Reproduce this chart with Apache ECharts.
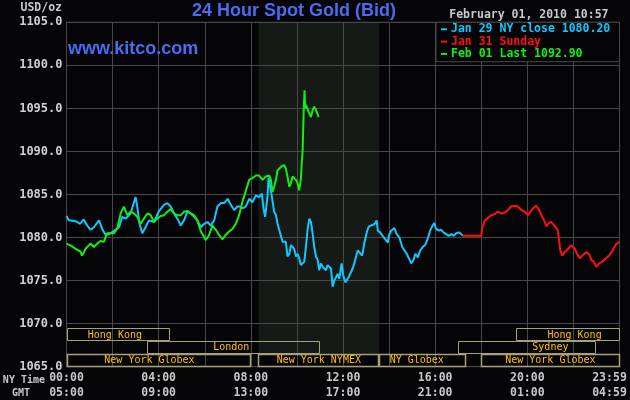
<!DOCTYPE html>
<html>
<head>
<meta charset="utf-8">
<script src="https://cdn.jsdelivr.net/npm/echarts@6/dist/echarts.min.js"></script>
<style>
html,body{margin:0;padding:0;background:#050508;}
#chart{width:630px;height:400px;}
</style>
</head>
<body>
<div id="chart"></div>
<script>
// ---- Data (hours of NY time, USD/oz) ----
const nyTimeLabels = ['00:00','04:00','08:00','12:00','16:00','20:00','23:59'];
const gmtLabels    = ['05:00','09:00','13:00','17:00','21:00','01:00','04:59'];

const jan29Times = [0,0.1,0.17,0.39,0.6,0.74,0.9,1.04,1.19,1.41,1.55,1.7,1.91,2.13,2.28,2.42,2.57,2.78,2.93,3.0,3.07,3.17,3.29,3.43,3.58,3.8,4.0,4.23,4.38,4.52,4.67,4.81,4.96,5.1,5.25,5.39,5.54,5.68,5.83,5.97,6.12,6.26,6.41,6.55,6.7,6.84,7.0,7.13,7.28,7.42,7.53,7.64,7.78,7.93,8.07,8.22,8.36,8.48,8.54,8.62,8.72,8.77,8.87,8.94,9.01,9.09,9.16,9.23,9.3,9.38,9.45,9.52,9.59,9.67,9.74,9.81,9.88,9.96,10.03,10.1,10.17,10.25,10.32,10.39,10.46,10.54,10.61,10.68,10.75,10.83,10.9,10.97,11.04,11.12,11.19,11.26,11.33,11.41,11.48,11.55,11.62,11.7,11.77,11.84,11.94,12.01,12.1,12.2,12.28,12.35,12.42,12.49,12.57,12.64,12.71,12.83,12.93,13.03,13.12,13.22,13.32,13.41,13.46,13.51,13.61,13.72,13.84,13.94,13.99,14.09,14.23,14.33,14.45,14.57,14.67,14.77,14.86,14.96,15.06,15.14,15.25,15.35,15.46,15.58,15.68,15.78,15.87,15.96,16.04,16.16,16.26,16.36,16.48,16.59,16.7,16.8,16.91,17.03,17.13,17.2];
const jan29Values = [1082.5,1082.0,1081.8,1081.9,1081.6,1082.1,1081.4,1080.9,1081.2,1082.0,1081.0,1080.3,1080.5,1080.9,1081.2,1082.4,1082.2,1082.8,1084.1,1084.7,1083.6,1081.6,1080.5,1081.2,1082.0,1081.8,1083.0,1083.8,1084.0,1083.6,1082.8,1082.2,1081.4,1082.0,1083.0,1082.8,1082.4,1082.0,1081.2,1081.6,1081.8,1081.4,1082.0,1083.6,1084.0,1084.0,1084.5,1083.8,1083.2,1083.6,1083.6,1083.4,1083.6,1084.5,1084.1,1084.9,1084.7,1085.1,1083.6,1082.4,1084.7,1086.9,1085.5,1085.5,1083.0,1082.6,1081.6,1080.9,1080.7,1079.5,1079.3,1079.5,1077.8,1078.1,1079.1,1079.3,1078.7,1077.8,1078.1,1077.6,1076.8,1077.0,1077.2,1078.9,1080.9,1082.2,1081.8,1080.5,1078.9,1077.8,1077.4,1076.2,1077.0,1076.6,1076.8,1076.2,1076.8,1076.8,1076.4,1074.3,1075.0,1075.4,1075.8,1075.2,1077.0,1075.6,1074.8,1075.2,1075.6,1076.0,1076.4,1077.0,1077.8,1078.5,1078.5,1077.9,1079.4,1080.6,1081.3,1081.4,1081.5,1081.7,1082.0,1080.8,1080.6,1080.2,1079.8,1079.4,1080.2,1080.8,1081.1,1080.4,1080.0,1078.9,1078.5,1078.1,1077.6,1077.0,1077.4,1078.1,1077.7,1078.5,1078.9,1079.2,1079.9,1080.8,1081.3,1081.7,1081.0,1080.8,1080.9,1080.6,1080.4,1080.2,1080.4,1080.2,1080.5,1080.6,1080.4,1080.2];

const jan31Times = [17.2,18.0,18.04,18.14,18.29,18.43,18.58,18.72,18.87,19.01,19.16,19.3,19.45,19.59,19.74,19.88,20.03,20.13,20.25,20.39,20.51,20.61,20.71,20.83,20.94,21.04,21.14,21.26,21.33,21.38,21.43,21.52,21.62,21.77,21.91,22.06,22.16,22.28,22.39,22.54,22.68,22.78,22.88,23.0,23.12,23.26,23.41,23.55,23.7,23.84,23.99];
const jan31Values = [1080.2,1080.2,1081.1,1081.9,1082.3,1082.6,1082.7,1083.0,1082.8,1082.9,1083.2,1083.6,1083.7,1083.6,1083.2,1083.0,1082.6,1083.0,1083.4,1083.7,1083.2,1082.6,1082.1,1081.3,1081.7,1081.8,1081.5,1081.1,1080.8,1079.6,1078.5,1077.9,1078.3,1078.7,1079.1,1078.7,1078.1,1077.6,1077.9,1078.3,1078.1,1077.4,1077.2,1076.6,1077.0,1077.2,1077.6,1077.9,1078.5,1079.2,1079.5];

const feb01Times = [0,0.17,0.39,0.6,0.68,0.83,1.04,1.19,1.33,1.48,1.62,1.77,1.91,2.06,2.2,2.35,2.49,2.57,2.64,2.78,2.93,3.07,3.22,3.36,3.51,3.65,3.8,3.94,4.09,4.23,4.38,4.52,4.67,4.81,4.96,5.1,5.25,5.39,5.54,5.68,5.83,5.97,6.04,6.19,6.33,6.48,6.62,6.77,6.91,7.06,7.2,7.35,7.49,7.64,7.78,7.93,8.07,8.22,8.36,8.51,8.65,8.8,8.87,8.94,9.01,9.09,9.16,9.3,9.45,9.52,9.59,9.67,9.74,9.81,9.88,9.96,10.03,10.1,10.17,10.2,10.25,10.29,10.33,10.36,10.39,10.46,10.54,10.61,10.68,10.75,10.83,10.9,10.94];
const feb01Values = [1079.3,1079.1,1078.7,1078.4,1077.9,1078.7,1079.3,1078.9,1079.3,1079.6,1079.5,1080.5,1080.5,1080.5,1081.0,1082.8,1083.6,1083.4,1082.6,1083.0,1082.8,1082.4,1081.6,1082.2,1082.8,1082.6,1081.8,1082.2,1082.5,1082.6,1083.0,1083.3,1082.8,1082.6,1082.6,1083.0,1083.1,1082.8,1082.6,1082.0,1080.7,1080.1,1079.7,1080.3,1081.4,1080.9,1080.3,1079.8,1080.3,1080.7,1081.0,1081.6,1082.6,1084.2,1085.4,1086.7,1086.9,1087.2,1087.2,1086.7,1087.1,1087.2,1086.7,1085.3,1085.9,1086.7,1087.8,1088.2,1088.4,1088.0,1087.1,1085.9,1086.3,1087.1,1086.9,1086.7,1086.3,1085.5,1086.7,1088.2,1090.2,1094.4,1097.1,1095.0,1095.4,1095.6,1094.4,1094.0,1094.8,1095.2,1094.8,1094.6,1094.0];

const seriesNames = ['Jan 29 NY close 1080.20','Jan 31 Sunday','Feb 01 Last 1092.90'];

const sessionNames   = ['Hong Kong','London','New York Globex','New York NYMEX','NY Globex','Sydney','Hong Kong','New York Globex'];
const sessionRow     = [0,1,2,2,2,1,0,2];
const sessionStart   = [0,3.5,0,8.33,13.57,17,19.5,18];
const sessionEnd     = [4.5,11,8.0,13.57,17.35,23,24,24];
const sessionLabelAt = [2.1,7.15,3.6,10.95,15.2,21.0,22.05,21.0];

// ---- Chart ----
const BG = '#050508';
const GRIDC = '#484848';
const MONO = '"DejaVu Sans Mono", monospace';
const zip = (t, v) => t.map((x, i) => [x, v[i]]);

const nymexIdx = sessionNames.indexOf('New York NYMEX');
const rowTops = [1069.5, 1068.0, 1066.5];
const rowH = 1.5;

const chart = echarts.init(document.getElementById('chart'), null, {renderer: 'canvas'});
chart.setOption({
  backgroundColor: BG,
  animation: false,
  textStyle: {fontFamily: MONO},
  grid: {left: 66.5, right: 10.5, top: 22.3, bottom: 33.3, containLabel: false, outerBoundsMode: 'none', show: true, borderColor: GRIDC, borderWidth: 1, backgroundColor: 'transparent'},
  xAxis: {
    type: 'value', min: 0, max: 24, interval: 2, z: 1,
    axisLine: {show: false}, axisTick: {show: false},
    splitLine: {show: true, lineStyle: {color: GRIDC, width: 1}},
    axisLabel: {
      margin: 4, color: '#c8c8c8', fontFamily: MONO, fontWeight: 'bold', fontSize: 11.5, lineHeight: 15,
      hideOverlap: false,
      formatter: function (v) {
        if (v % 4 !== 0) return '';
        const i = v / 4;
        if (i === nyTimeLabels.length - 1) return '{last|' + nyTimeLabels[i] + '}\n{last|' + gmtLabels[i] + '}';
        return nyTimeLabels[i] + '\n' + gmtLabels[i];
      },
      rich: {last: {color: '#c8c8c8', fontFamily: MONO, fontWeight: 'bold', fontSize: 11.5, lineHeight: 15, padding: [0, 20, 0, 0]}}
    }
  },
  yAxis: {
    type: 'value', min: 1065, max: 1105, interval: 5, z: 1,
    axisLine: {show: false}, axisTick: {show: false},
    splitLine: {show: true, lineStyle: {color: GRIDC, width: 1}},
    axisLabel: {margin: 4, color: '#d0d0d0', fontFamily: MONO, fontWeight: 'bold', fontSize: 12, formatter: v => v.toFixed(1)}
  },
  legend: {
    orient: 'vertical', left: 441, top: 23.3, padding: 0, itemGap: 0.3,
    itemWidth: 6, itemHeight: 2, icon: 'rect', selectedMode: false, z: 5,
    textStyle: {fontFamily: MONO, fontWeight: 'bold', fontSize: 11.5, lineHeight: 12, padding: [0, 0, 0, -1]},
    data: [
      {name: seriesNames[0], textStyle: {color: '#10c8ff'}},
      {name: seriesNames[1], textStyle: {color: '#ff1010'}},
      {name: seriesNames[2], textStyle: {color: '#10f010'}}
    ]
  },
  graphic: [
    {type: 'rect', z: 3, shape: {x: 436, y: 22.3, width: 183.5, height: 39.4}, style: {fill: BG, stroke: GRIDC, lineWidth: 1}},
    {type: 'text', z: 4, style: {text: '24 Hour Spot Gold (Bid)', x: 294, y: 11, align: 'center', verticalAlign: 'middle', fill: '#4b6cf2', font: 'bold 18px "Liberation Sans", Arial, sans-serif'}},
    {type: 'text', z: 4, style: {text: 'www.kitco.com', x: 68, y: 49, align: 'left', verticalAlign: 'middle', fill: '#4b6cf2', font: 'bold 18px "Liberation Sans", Arial, sans-serif'}},
    {type: 'text', z: 4, style: {text: 'USD/oz', x: 62, y: 8.5, align: 'right', verticalAlign: 'middle', fill: '#c8c8c8', font: 'bold 11.5px ' + MONO}},
    {type: 'text', z: 4, style: {text: 'February 01, 2010 10:57', x: 608.5, y: 15, align: 'right', verticalAlign: 'middle', fill: '#c8c8c8', font: 'bold 11.5px ' + MONO}},
    {type: 'text', z: 4, style: {text: 'NY Time', x: 45, y: 380, align: 'right', verticalAlign: 'middle', fill: '#c8c8c8', font: 'bold 10px ' + MONO}},
    {type: 'text', z: 4, style: {text: 'GMT', x: 30, y: 393.5, align: 'right', verticalAlign: 'middle', fill: '#c8c8c8', font: 'bold 10px ' + MONO}}
  ],
  series: [
    {
      name: 'NYMEX session', type: 'custom', z: 0, silent: true,
      data: [[sessionStart[nymexIdx], sessionEnd[nymexIdx]]],
      renderItem: function (params, api) {
        const p1 = api.coord([api.value(0), 1105]);
        const p2 = api.coord([api.value(1), rowTops[2]]);
        return {type: 'rect', shape: {x: p1[0], y: p1[1], width: p2[0] - p1[0], height: p2[1] - p1[1]}, style: {fill: '#161a16'}};
      }
    },
    {name: seriesNames[0], type: 'line', z: 2, showSymbol: false, data: zip(jan29Times, jan29Values), lineStyle: {color: '#10c8ff', width: 2}, itemStyle: {color: '#10c8ff'}},
    {name: seriesNames[1], type: 'line', z: 2, showSymbol: false, data: zip(jan31Times, jan31Values), lineStyle: {color: '#ff1010', width: 2}, itemStyle: {color: '#ff1010'}},
    {name: seriesNames[2], type: 'line', z: 2, showSymbol: false, data: zip(feb01Times, feb01Values), lineStyle: {color: '#10f010', width: 2}, itemStyle: {color: '#10f010'}},
    {
      name: 'Market sessions', type: 'custom', z: 3, silent: true,
      data: sessionNames.map((n, i) => [sessionStart[i], sessionEnd[i], sessionRow[i], sessionLabelAt[i], n]),
      renderItem: function (params, api) {
        const i = params.dataIndex;
        const row = sessionRow[i];
        const top = rowTops[row];
        const p1 = api.coord([sessionStart[i], top]);
        const p2 = api.coord([sessionEnd[i], top - rowH]);
        const pc = api.coord([sessionLabelAt[i], top - rowH / 2]);
        const x1 = Math.round(p1[0]) + 0.5, x2 = Math.round(p2[0]) - 0.5;
        const y1 = Math.round(p1[1]) + 0.5, y2 = Math.round(p2[1]) - 0.5;
        return {
          type: 'group',
          children: [
            {type: 'rect', shape: {x: x1, y: y1, width: x2 - x1, height: y2 - y1}, style: {fill: 'none', stroke: '#a8a078', lineWidth: row === 2 ? 1.5 : 1}},
            {type: 'text', style: {text: sessionNames[i], x: pc[0], y: pc[1] + 0.5, align: 'center', verticalAlign: 'middle', fill: '#ffc000', font: '10px ' + MONO}}
          ]
        };
      }
    }
  ]
});
</script>
</body>
</html>
